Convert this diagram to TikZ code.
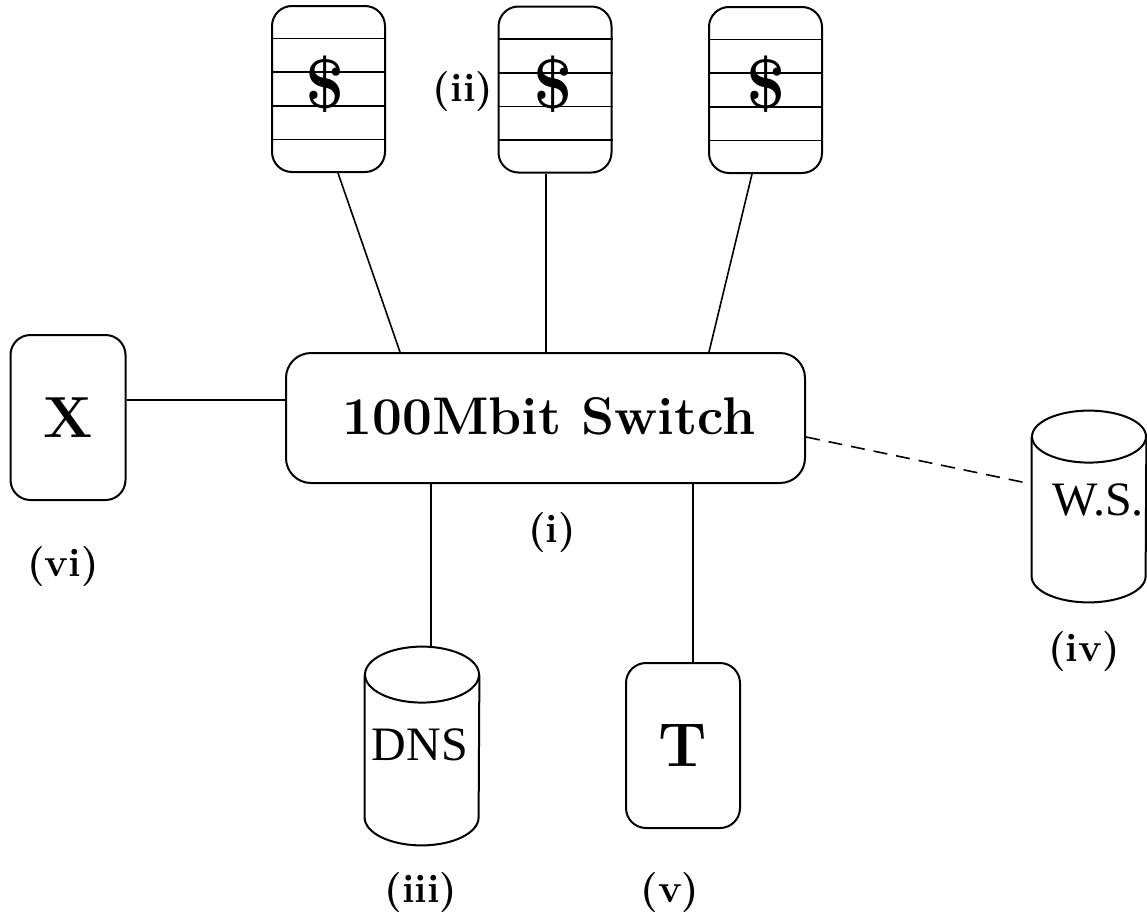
\documentclass[tikz,border=0pt]{standalone}
\usepackage{fontspec}
\setmainfont{Liberation Serif}
\newfontfamily\lmroman{Latin Modern Roman}
\usetikzlibrary{calc}
\newcommand\bsch{\lmroman\bfseries}
\begin{document}
\begin{tikzpicture}[x=0.5pt,y=-0.5pt,
  box/.style={draw,line width=1pt,rounded corners=10pt,inner sep=0pt},
  cache/.style={box,minimum width=56.5pt,minimum height=83pt},
  dollar/.style={inner sep=0pt,font=\bsch\fontsize{35}{35}\selectfont},
  bigletter/.style={box,minimum width=57pt,minimum height=82.5pt,font=\bsch\fontsize{31}{31}\selectfont},
  lbl/.style={inner sep=0pt,font=\bsch\fontsize{20}{21}\selectfont},
  conn/.style={line width=0.8pt},
  cylbox/.style={inner sep=0pt,minimum width=57pt},
  cyltext/.style={inner sep=0pt,font=\fontsize{24}{24}\selectfont},
  cyl/.style={line width=1pt}
]
\useasboundingbox (0,0) rectangle (1147,916);

% cache boxes
\node[cache] (c1) at (328.5,89) {};
\node[cache] (c2) at (555,89.5) {};
\node[cache] (c3) at (765.5,90) {};
\foreach \n in {c1,c2,c3}{
  \foreach \f in {0.2,0.4,0.6,0.8}{
    \draw[line width=0.8pt] ($(\n.north west)!\f!(\n.south west)$) -- ($(\n.north east)!\f!(\n.south east)$);
  }
}
\node[dollar] (d1) at (325,84) {\$};
\node[dollar] (d2) at (553,84) {\$};
\node[dollar] (d3) at (766,84) {\$};

% switch
\node[box,rounded corners=12.5pt,minimum width=259.5pt,minimum height=65pt] (sw) at (545.5,418) {};
\node[inner sep=0pt,font=\bsch\fontsize{26.5}{27}\selectfont] (swt) at (549,416) {100Mbit Switch};

% X and T boxes
\node[bigletter,minimum width=57.5pt,font=\bsch\fontsize{29}{29}\selectfont] (x) at (68,417.5) {X};
\node[bigletter] (t) at (683,745.5) {T};

% DNS cylinder
\node[cylbox,minimum height=99pt] (dns) at (422,746) {};
\node[cyltext] (dnst) at (420,745) {DNS};
\draw[cyl] ($(dns.north)+(0,28)$) ellipse [x radius=28.5pt,y radius=14pt];
\draw[cyl] ($(dns.north west)+(0,28)$) -- ($(dns.south west)+(0,-28)$)
  arc[start angle=180,end angle=360,x radius=28.5pt,y radius=14pt]
  -- ($(dns.north east)+(0,28)$);

% W.S. cylinder
\node[cylbox,minimum height=95.5pt] (ws) at (1089,506.5) {};
\node[cyltext] (wst) at (1098,500) {W.S.};
\draw[cyl] ($(ws.north)+(0,26)$) ellipse [x radius=28.5pt,y radius=13pt];
\draw[cyl] ($(ws.north west)+(0,26)$) -- ($(ws.south west)+(0,-26)$)
  arc[start angle=180,end angle=360,x radius=28.5pt,y radius=13pt]
  -- ($(ws.north east)+(0,26)$);

% connectors
\draw[conn] ([xshift=4.75pt]c1.south) -- ([xshift=-72.75pt]sw.north);
\draw[conn] ([xshift=-4.5pt]c2.south) -- ([xshift=-4.5pt]c2.south |- sw.north);
\draw[conn] ([xshift=-6.75pt]c3.south) -- ([xshift=81.75pt]sw.north);
\draw[conn] ([yshift=8.75pt]x.east) -- ([yshift=8.75pt]x.east -| sw.west);
\draw[conn] ([xshift=4.5pt]dns.north) -- ([xshift=4.5pt]dns.north |- sw.south);
\draw[conn] ([xshift=5pt]t.north) -- ([xshift=5pt]t.north |- sw.south);
\draw[conn,dash pattern=on 7pt off 4.5pt] ([yshift=-9.5pt]sw.east) -- ([yshift=11.25pt]ws.west);

% labels
\node[lbl] (li) at (552,533) {(i)};
\node[lbl] (lii) at (463,92) {(ii)};
\node[lbl] (liii) at (421,893) {(iii)};
\node[lbl] (liv) at (1084,652) {(iv)};
\node[lbl] (lv) at (670,893) {(v)};
\node[lbl] (lvi) at (63,567) {(vi)};
\end{tikzpicture}
\end{document}
